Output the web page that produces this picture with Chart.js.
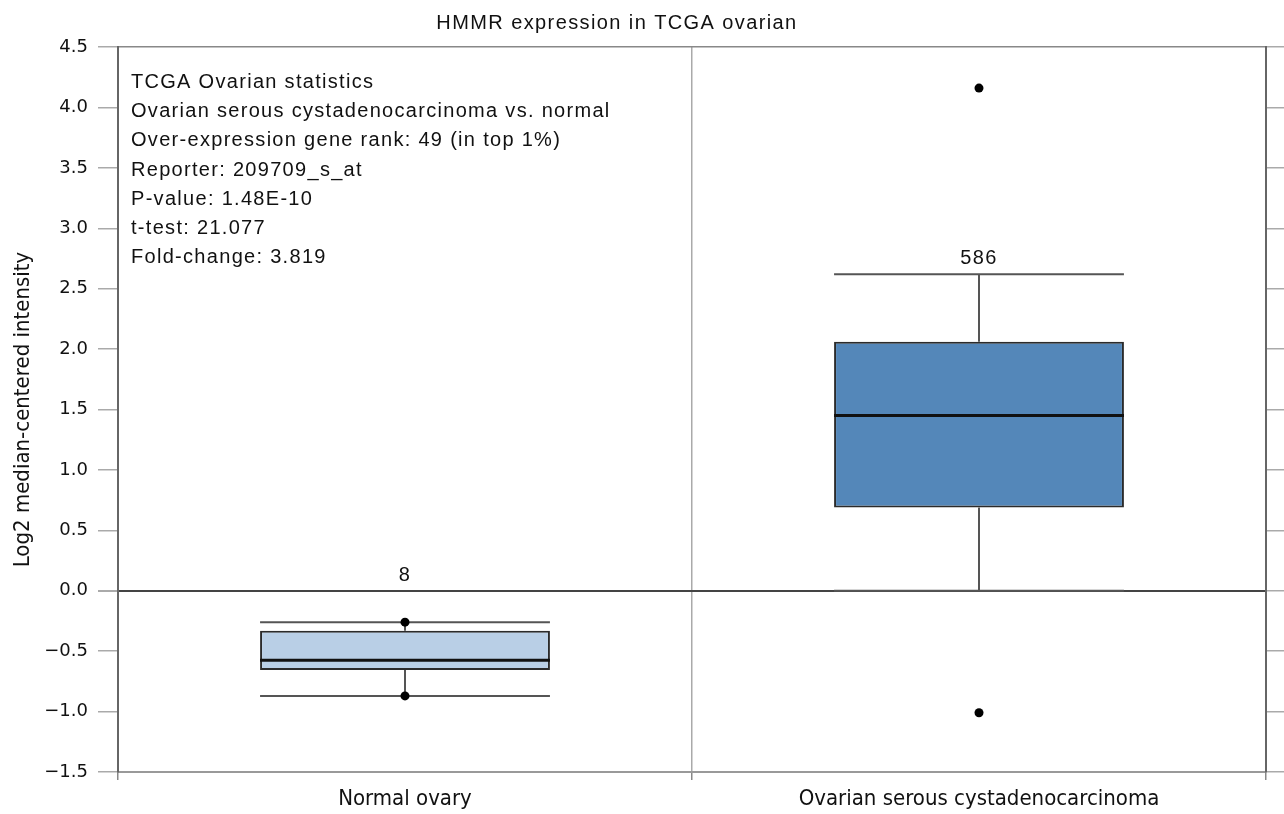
<!DOCTYPE html>
<html>
<head>
<meta charset="utf-8">
<script src="https://cdn.jsdelivr.net/npm/chart.js@4.4.1/dist/chart.umd.min.js"></script>
<style>
  body { margin: 0; background: #fff; }
  #wrap { width: 1284px; height: 814px; position: relative; }
</style>
</head>
<body>
<div id="wrap"><canvas id="grafico"></canvas></div>
<script>
// box plot values
const categorias = ['Normal ovary', 'Ovarian serous cystadenocarcinoma'];
const bigoteMin = [-0.87, 0.0];
const cuartil1 = [-0.655, 0.69];
const mediana = [-0.575, 1.45];
const cuartil3 = [-0.33, 2.06];
const bigoteMax = [-0.26, 2.62];
const muestras = [8, 586];
const atipicosCategoria = ['Normal ovary', 'Normal ovary', 'Ovarian serous cystadenocarcinoma', 'Ovarian serous cystadenocarcinoma'];
const atipicosValor = [-0.26, -0.87, 4.16, -1.01];
const coloresCaja = ['#b9cfe6', '#5487b9'];
const yTicks = [-1.5, -1.0, -0.5, 0, 0.5, 1.0, 1.5, 2.0, 2.5, 3.0, 3.5, 4.0, 4.5];
const titulo = 'HMMR expression in TCGA ovarian';
const estadisticas = [
    'TCGA Ovarian statistics',
    'Ovarian serous cystadenocarcinoma vs. normal',
    'Over-expression gene rank: 49 (in top 1%)',
    'Reporter: 209709_s_at',
    'P-value: 1.48E-10',
    't-test: 21.077',
    'Fold-change: 3.819'
];

const fuente = "'Liberation Sans', Arial, sans-serif";
const fuenteTicks = "'DejaVu Sans', sans-serif";
const fuenteEstrecha = "'DejaVu Sans Condensed', 'Liberation Sans', sans-serif";

const pluginCajas = {
    id: 'cajas',
    afterDatasetDraw(chart, args) {
        if (args.index !== 0) return;
        const ctx = chart.ctx;
        const y = chart.scales.y;
        args.meta.data.forEach((barra, i) => {
            const x = barra.x;
            const mitad = barra.width / 2;
            ctx.save();
            ctx.strokeStyle = '#555';
            ctx.lineWidth = 2;
            ctx.beginPath();
            ctx.moveTo(x, y.getPixelForValue(cuartil3[i]));
            ctx.lineTo(x, y.getPixelForValue(bigoteMax[i]));
            ctx.moveTo(x, y.getPixelForValue(cuartil1[i]));
            ctx.lineTo(x, y.getPixelForValue(bigoteMin[i]));
            ctx.moveTo(x - mitad, y.getPixelForValue(bigoteMax[i]));
            ctx.lineTo(x + mitad, y.getPixelForValue(bigoteMax[i]));
            ctx.moveTo(x - mitad, y.getPixelForValue(bigoteMin[i]));
            ctx.lineTo(x + mitad, y.getPixelForValue(bigoteMin[i]));
            ctx.stroke();
            ctx.strokeStyle = '#111';
            ctx.lineWidth = 3;
            ctx.beginPath();
            ctx.moveTo(x - mitad, y.getPixelForValue(mediana[i]));
            ctx.lineTo(x + mitad, y.getPixelForValue(mediana[i]));
            ctx.stroke();
            ctx.restore();
        });
    },
    afterDraw(chart) {
        const ctx = chart.ctx;
        const y = chart.scales.y;
        const area = chart.chartArea;
        ctx.save();
        ctx.fillStyle = '#111';
        ctx.font = '20px ' + fuente;
        ctx.letterSpacing = '1.4px';
        ctx.textAlign = 'center';
        ctx.textBaseline = 'alphabetic';
        ctx.fillText(titulo, 617, 29);

        ctx.letterSpacing = '1.3px';
        const meta = chart.getDatasetMeta(0);
        meta.data.forEach((barra, i) => {
            const tope = Math.max(bigoteMax[i], 0);
            ctx.fillText(String(muestras[i]), barra.x, y.getPixelForValue(tope) - 10);
        });

        ctx.textAlign = 'left';
        estadisticas.forEach((linea, i) => {
            ctx.fillText(linea, area.left + 13, 88 + i * 29.2);
        });
        ctx.restore();
    }
};

const ctx = document.getElementById('grafico').getContext('2d');
new Chart(ctx, {
    data: {
        labels: categorias,
        datasets: [
            {
                type: 'bar',
                data: categorias.map((c, i) => [cuartil1[i], cuartil3[i]]),
                backgroundColor: coloresCaja,
                borderColor: '#2b2b2b',
                borderWidth: 2,
                borderSkipped: false,
                barPercentage: 0.505,
                categoryPercentage: 1,
                order: 2
            },
            {
                type: 'line',
                data: atipicosCategoria.map((c, i) => ({ x: c, y: atipicosValor[i] })),
                showLine: false,
                pointRadius: 4.5,
                pointBackgroundColor: '#000',
                pointBorderColor: '#000',
                pointBorderWidth: 0,
                order: 1
            }
        ]
    },
    options: {
        responsive: true,
        maintainAspectRatio: false,
        animation: false,
        layout: { padding: { top: 47, left: 0, right: 0, bottom: 0 } },
        plugins: {
            legend: { display: false },
            tooltip: { enabled: false }
        },
        scales: {
            x: {
                type: 'category',
                offset: true,
                afterFit: s => { s.height = 42; },
                grid: {
                    offset: true,
                    color: '#aaa',
                    lineWidth: 1.5,
                    tickLength: 8,
                    tickColor: '#888'
                },
                border: { color: '#999', width: 2 },
                ticks: {
                    color: '#111',
                    padding: 6,
                    font: { family: fuenteEstrecha, size: 22 }
                }
            },
            y: {
                position: 'left',
                min: -1.5,
                max: 4.5,
                afterFit: s => { s.width = 118; },
                afterBuildTicks: s => { s.ticks = yTicks.map(v => ({ value: v })); },
                grid: {
                    color: c => c.tick.value === 0 ? '#444' : (c.tick.value === 4.5 ? '#888' : 'rgba(0,0,0,0)'),
                    lineWidth: c => c.tick.value === 0 ? 2 : 1.5,
                    tickColor: '#aaa',
                    tickLength: 20
                },
                border: { color: '#666', width: 2 },
                ticks: {
                    color: '#111',
                    padding: 10,
                    font: { family: fuenteTicks, size: 18 },
                    callback: v => (v < 0 ? '\u2212' : '') + Math.abs(v).toFixed(1)
                },
                title: {
                    display: true,
                    text: 'Log2 median-centered intensity',
                    color: '#111',
                    padding: { top: 10, bottom: 0 },
                    font: { family: fuenteEstrecha, size: 22 }
                }
            },
            y2: {
                position: 'right',
                min: -1.5,
                max: 4.5,
                afterFit: s => { s.width = 18; },
                afterBuildTicks: s => { s.ticks = yTicks.map(v => ({ value: v })); },
                grid: {
                    drawOnChartArea: false,
                    tickColor: '#aaa',
                    lineWidth: 1.5,
                    tickLength: 18
                },
                border: { color: '#666', width: 2 },
                ticks: { display: false }
            }
        }
    },
    plugins: [pluginCajas]
});
</script>
</body>
</html>
